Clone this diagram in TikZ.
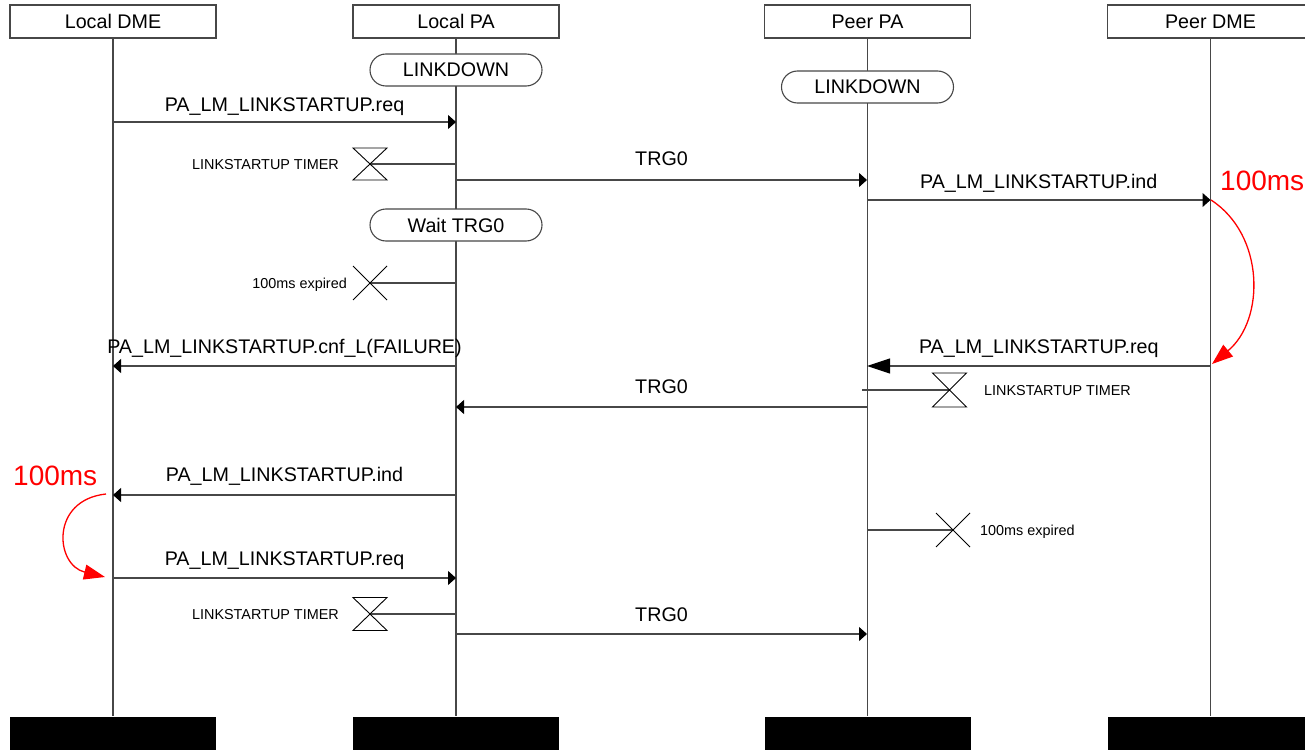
\documentclass[tikz,border=0pt]{standalone}
\usepackage{fontspec}
\setmainfont{Liberation Sans}
\usetikzlibrary{arrows.meta}
\newcommand\fMain{\fontsize{19.7}{23}\selectfont}
\newcommand\fSmall{\fontsize{14.4}{17}\selectfont}
\newcommand\fRed{\fontsize{28}{32}\selectfont}
\begin{document}
\begin{tikzpicture}[x=1pt,y=-1pt,
  lane/.style={draw=black!72, line width=1.1pt},
  headbox/.style={draw=black!72, line width=1.1pt, fill=white, minimum width=206pt, minimum height=33pt, inner sep=0pt, font=\fMain},
  endbar/.style={fill=black, draw=none, minimum width=206pt, minimum height=34pt, inner sep=0pt},
  statebox/.style={draw=black!72, line width=1.1pt, fill=white, rounded corners=16pt, minimum width=172pt, minimum height=32pt, inner sep=0pt, font=\fMain},
  msg/.style={draw=black!72, line width=1.1pt, -{Triangle[length=8pt,width=14pt,color=black]}},
  bigmsg/.style={draw=black!72, line width=1.1pt, -{Triangle[length=23pt,width=15pt,color=black]}},
  mlabel/.style={anchor=base, inner sep=0pt, font=\fMain},
  slabel/.style={inner sep=0pt, font=\fSmall},
  timer/.style={draw=black, line width=0.9pt},
  redarc/.style={draw=red, line width=1.3pt, -{Triangle[length=21pt,width=15pt]}},
  redlabel/.style={anchor=base west, inner sep=0pt, font=\fRed, text=red}
]
\useasboundingbox (0,0) rectangle (1305,749);

% heads and ends
\node[headbox] (hA) at (113,21.5) {Local DME};
\node[headbox] (hB) at (456,21.5) {Local PA};
\node[headbox] (hC) at (867.5,21.5) {Peer PA};
\node[headbox] (hD) at (1210.5,21.5) {Peer DME};
\node[endbar] (eA) at (113,733.5) {};
\node[endbar] (eB) at (456,733.5) {};
\node[endbar] (eC) at (867.5,733.5) {};
\node[endbar] (eD) at (1210.5,733.5) {};
\draw[lane] (hA.south) -- (eA.north);
\draw[lane] (hB.south) -- (eB.north);
\draw[lane] (hC.south) -- (eC.north);
\draw[lane] (hD.south) -- (eD.north);

% states
\node[statebox] (sB1) at (456,70) {LINKDOWN};
\node[statebox] (sC1) at (867.5,87) {LINKDOWN};
\node[statebox] (sB2) at (456,225) {Wait TRG0};

% coordinates
\coordinate (a1) at (113,122);  \coordinate (b1) at (456,122);
\coordinate (b2) at (456,164);  \coordinate (t1) at (370,164);
\coordinate (b3) at (456,180);  \coordinate (c3) at (867,180);
\coordinate (c4) at (867,200);  \coordinate (d4) at (1210.5,200);
\coordinate (b5) at (456,283);  \coordinate (x1) at (370,283);
\coordinate (b6) at (456,366);  \coordinate (a6) at (113,366);
\coordinate (d7) at (1210.5,366); \coordinate (c7) at (867,366);
\coordinate (c8) at (862,390);  \coordinate (t2) at (949.5,390);
\coordinate (c9) at (867,407);  \coordinate (b9) at (456,407);
\coordinate (b10) at (456,495); \coordinate (a10) at (113,495);
\coordinate (c11) at (867,530); \coordinate (x2) at (953,530);
\coordinate (a12) at (113,578); \coordinate (b12) at (456,578);
\coordinate (b13) at (456,614); \coordinate (t3) at (370,614);
\coordinate (b14) at (456,634); \coordinate (c14) at (867,634);

% messages
\draw[msg] (a1) -- (b1);
\node[mlabel] (l1) at (284.5,111) {PA\_LM\_LINKSTARTUP.req};

\draw[lane] (b2) -- (t1);
\draw[timer] (t1) ++(-17,-16) -- ++(34,0) -- ++(-34,32) -- ++(34,0) -- cycle;
\node[slabel, anchor=base east] (l2) at (339,169) {LINKSTARTUP TIMER};

\draw[msg] (b3) -- (c3);
\node[mlabel] (l3) at (661.5,165) {TRG0};

\draw[msg] (c4) -- (d4);
\node[mlabel] (l4) at (1038.75,188) {PA\_LM\_LINKSTARTUP.ind};

\draw[lane] (b5) -- (x1);
\draw[timer] (x1) ++(-17,-17) -- ++(34,34) (x1) ++(17,-17) -- ++(-34,34);
\node[slabel, anchor=base east] (l5) at (347,288) {100ms expired};

\draw[msg] (b6) -- (a6);
\node[mlabel] (l6) at (284.5,353) {PA\_LM\_LINKSTARTUP.cnf\_L(FAILURE)};

\draw[bigmsg] (d7) -- (c7);
\node[mlabel] (l7) at (1038.75,353) {PA\_LM\_LINKSTARTUP.req};

\draw[lane] (c8) -- (t2);
\draw[timer] (t2) ++(-17,-17) -- ++(34,0) -- ++(-34,34) -- ++(34,0) -- cycle;
\node[slabel, anchor=base west] (l8) at (984,395) {LINKSTARTUP TIMER};

\draw[msg] (c9) -- (b9);
\node[mlabel] (l9) at (661.5,393) {TRG0};

\draw[msg] (b10) -- (a10);
\node[mlabel] (l10) at (284.5,481) {PA\_LM\_LINKSTARTUP.ind};

\draw[lane] (c11) -- (x2);
\draw[timer] (x2) ++(-17,-17) -- ++(34,34) (x2) ++(17,-17) -- ++(-34,34);
\node[slabel, anchor=base west] (l11) at (980,535) {100ms expired};

\draw[msg] (a12) -- (b12);
\node[mlabel] (l12) at (284.5,565) {PA\_LM\_LINKSTARTUP.req};

\draw[lane] (b13) -- (t3);
\draw[timer] (t3) ++(-17,-16.5) -- ++(34,0) -- ++(-34,33) -- ++(34,0) -- cycle;
\node[slabel, anchor=base east] (l13) at (339,619) {LINKSTARTUP TIMER};

\draw[msg] (b14) -- (c14);
\node[mlabel] (l14) at (661.5,621) {TRG0};

% red delays
\coordinate (r1s) at (1211,200); \coordinate (r1e) at (1212,364);
\draw[redarc] (r1s) .. controls (1265,235) and (1265,320) .. (r1e);
\node[redlabel] (rl1) at (1220,190) {100ms};

\coordinate (r2s) at (106,494); \coordinate (r2e) at (105,577);
\draw[redarc] (r2s) .. controls (50,500) and (55,565) .. (r2e);
\node[redlabel] (rl2) at (13,485) {100ms};
\end{tikzpicture}
\end{document}
